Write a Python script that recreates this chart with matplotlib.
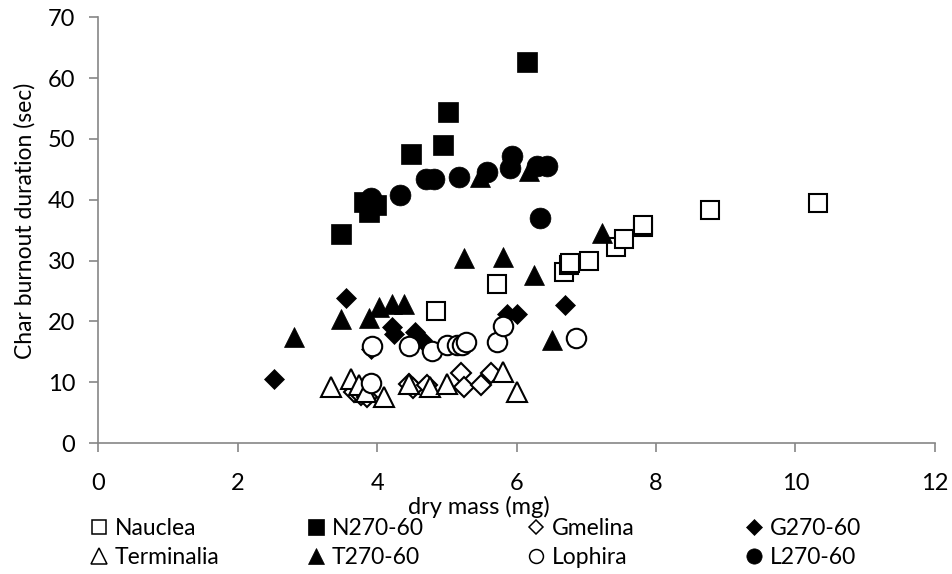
import matplotlib
matplotlib.use('Agg')
import matplotlib.pyplot as plt
from matplotlib.lines import Line2D

plt.rcParams['font.family'] = ['Lato', 'DejaVu Sans']

# -------------------------------------------------------------------------
# data (dry mass mg, char burnout sec)
# -------------------------------------------------------------------------
nauclea_x = [4.85, 5.72, 6.68, 6.75, 6.77, 7.04, 7.42, 7.54, 7.81, 7.81, 8.77, 10.33]
nauclea_y = [21.7, 26.1, 28.2, 29.3, 29.6, 30.0, 32.3, 33.6, 35.5, 35.9, 38.3, 39.5]

n270_x = [3.48, 3.81, 3.89, 3.98, 4.48, 4.95, 5.02, 6.15]
n270_y = [34.4, 39.7, 38.0, 39.1, 47.5, 49.0, 54.5, 62.7]

gmelina_x = [3.67, 3.77, 3.86, 4.46, 4.51, 4.72, 5.20, 5.25, 5.49, 5.63]
gmelina_y = [8.4, 7.9, 7.6, 9.8, 9.0, 9.5, 11.5, 9.3, 9.5, 11.5]

g270_x = [2.52, 3.55, 3.92, 4.22, 4.24, 4.55, 4.65, 5.87, 6.01, 6.69]
g270_y = [10.6, 23.8, 15.4, 19.1, 18.0, 18.2, 16.9, 21.3, 21.3, 22.7]

terminalia_x = [3.34, 3.62, 3.74, 3.84, 4.10, 4.46, 4.76, 5.01, 5.80, 6.01]
terminalia_y = [9.3, 10.6, 9.5, 8.4, 7.6, 9.7, 9.3, 9.8, 11.7, 8.4]

t270_x = [2.81, 3.48, 3.89, 4.03, 4.22, 4.39, 5.25, 5.48, 5.80, 6.18, 6.25, 6.51, 7.22]
t270_y = [17.5, 20.4, 20.6, 22.3, 22.8, 22.8, 30.5, 43.7, 30.6, 44.8, 27.6, 16.9, 34.5]

lophira_x = [3.92, 3.93, 4.46, 4.79, 5.00, 5.14, 5.22, 5.28, 5.72, 5.81, 6.86]
lophira_y = [9.9, 15.9, 15.9, 15.2, 16.1, 16.2, 16.2, 16.6, 16.6, 19.2, 17.2]

l270_x = [3.91, 4.33, 4.70, 4.82, 5.18, 5.58, 5.90, 5.93, 6.30, 6.34, 6.44]
l270_y = [40.3, 40.8, 43.4, 43.4, 43.8, 44.5, 45.3, 47.2, 45.6, 37.0, 45.6]

X_TICKS = [0, 2, 4, 6, 8, 10, 12]
Y_TICKS = [0, 10, 20, 30, 40, 50, 60, 70]

# (label, x, y, marker, filled, plot size, legend size)
SERIES = [
    ('Nauclea',    nauclea_x,    nauclea_y,    's', False, 13,   10),
    ('N270-60',    n270_x,       n270_y,       's', True,  14,   11),
    ('Gmelina',    gmelina_x,    gmelina_y,    'D', False, 10,   7.5),
    ('G270-60',    g270_x,       g270_y,       'D', True,  10.5, 8),
    ('Terminalia', terminalia_x, terminalia_y, '^', False, 14,   11),
    ('T270-60',    t270_x,       t270_y,       '^', True,  15,   12),
    ('Lophira',    lophira_x,    lophira_y,    'o', False, 14,   10),
    ('L270-60',    l270_x,       l270_y,       'o', True,  15,   11),
]

fig = plt.figure(figsize=(9.53, 5.74), dpi=100)
ax = fig.add_axes([0.103, 0.228, 0.878, 0.742])

handles = {}
for label, xs, ys, mk, filled, ms, lms in SERIES:
    face = 'black' if filled else 'white'
    ax.plot(xs, ys, linestyle='none', marker=mk, markersize=ms,
            markerfacecolor=face, markeredgecolor='black',
            markeredgewidth=0.5 if filled else 1.5)
    handles[label] = Line2D([], [], linestyle='none', marker=mk, markersize=lms,
                            markerfacecolor=face, markeredgecolor='black',
                            markeredgewidth=0.5 if filled else 1.1)

ax.set_xlim(0, 12)
ax.set_ylim(0, 70)
ax.set_xticks(X_TICKS)
ax.set_yticks(Y_TICKS)
for side in ['top', 'right']:
    ax.spines[side].set_visible(False)
for side in ['left', 'bottom']:
    ax.spines[side].set_color('#868686')
    ax.spines[side].set_linewidth(1.2)
ax.tick_params(direction='out', length=6.5, width=1.2, color='#868686',
               labelsize=17, labelcolor='black', pad=10)
ax.tick_params(axis='x', pad=15)
ax.set_xlabel('dry mass (mg)', fontsize=17)
ax.xaxis.set_label_coords(0.455, -0.125)
ax.set_ylabel('Char burnout duration (sec)', fontsize=16.5)
ax.yaxis.set_label_coords(-0.075, 0.523)

# legend: one column per pair, placed like the original
LEGEND_COLS = [
    (['Nauclea', 'Terminalia'], 0.0918),
    (['N270-60', 'T270-60'],    0.3195),
    (['Gmelina', 'Lophira'],    0.5504),
    (['G270-60', 'L270-60'],    0.7791),
]
for names, x0 in LEGEND_COLS:
    fig.legend([handles[k] for k in names], names, loc='center left',
               bbox_to_anchor=(x0, 0.054), frameon=False, fontsize=16.5,
               handlelength=1.0, handletextpad=0.2, labelspacing=0.34,
               borderpad=0, borderaxespad=0)

plt.savefig('out.png', dpi=100)
